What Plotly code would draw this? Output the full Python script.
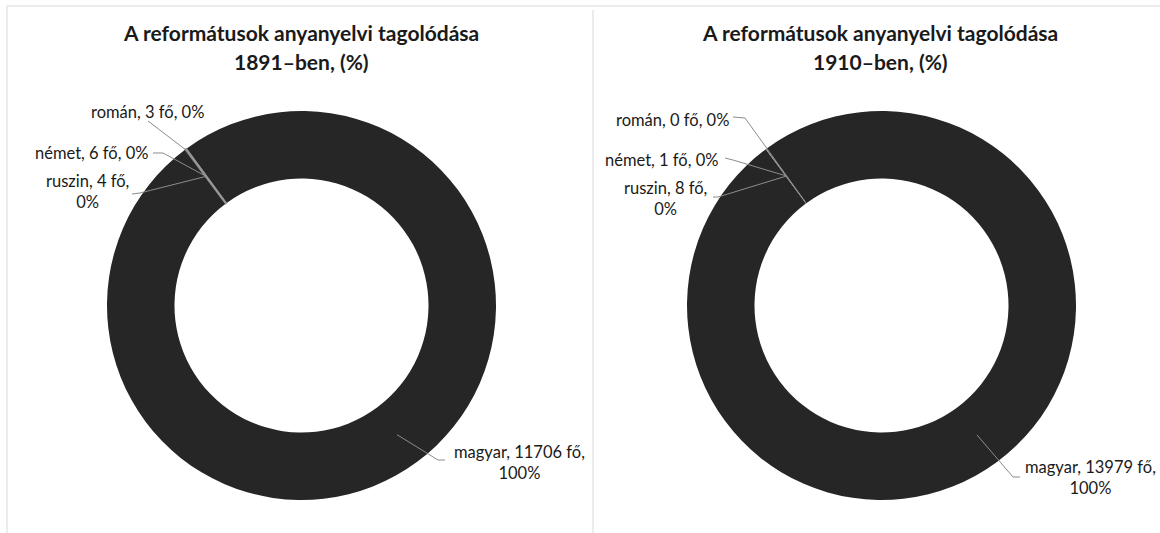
import math

import plotly.graph_objects as go

# ─────────────────────────────────────────────────────────────────────────────
# Data
# ─────────────────────────────────────────────────────────────────────────────

categories = ["magyar", "ruszin", "német", "román"]
values_1891 = [11706, 4, 6, 3]
values_1910 = [13979, 8, 1, 0]
years = ["1891", "1910"]

# ─────────────────────────────────────────────────────────────────────────────
# Style / layout
# ─────────────────────────────────────────────────────────────────────────────

W, H = 1160, 533
FONT = "Lato, 'Open Sans', sans-serif"
TEXT = "#1a1a1a"
LEADER = "#8c8c8c"
BORDER = "#d9d9d9"
COLORS = ["#262626", "#7f7f7f", "#8c8c8c", "#999999"]

ROTATION = -36.3
HOLE = 0.653
MID = (1 + HOLE) / 2

# pie geometry in pixels: centre x, centre y (from top), outer radius
PIES = [
    dict(cx=301.5, cy=305.5, r=194.5, title_x=301, slice_line=1.4),
    dict(cx=881.5, cy=305.5, r=194.5, title_x=880, slice_line=0),
]

# label placement (pixels): text centre, leader stub points, radius fraction
LABELS = [
    {
        "román": dict(pos=(147, 112), stub=[(148, 121)], rf=0.98, wrap=False),
        "német": dict(pos=(91, 153), stub=[(153, 153), (163, 153)], rf=MID, wrap=False),
        "ruszin": dict(pos=(87, 192), stub=[(132, 194), (140, 193)], rf=MID, wrap=True),
        "magyar": dict(pos=(519, 462), stub=[(445, 460), (438, 460)], rf=MID, wrap=True),
    },
    {
        "román": dict(pos=(672, 120), stub=[(733, 117), (745, 118)], rf=HOLE + 0.01, wrap=False),
        "német": dict(pos=(661, 160), stub=[(725, 158), (733, 160)], rf=MID, wrap=False),
        "ruszin": dict(pos=(665, 198), stub=[(713, 197), (718, 197)], rf=MID, wrap=True),
        "magyar": dict(pos=(1090, 477), stub=[(1020, 477), (1013, 477)], rf=MID, wrap=True),
    },
]


def px(x):
    return x / W


def py(y):
    return 1 - y / H


def slice_point(values, i, geo, rf):
    """Pixel position on the ring at the middle angle of slice ``i``."""
    total = sum(values)
    before = sum(values[:i])
    ang = math.radians(ROTATION + 360 * (before + values[i] / 2) / total)
    rad = geo["r"] * rf
    return geo["cx"] + rad * math.sin(ang), geo["cy"] - rad * math.cos(ang)


fig = go.Figure()
shapes = []
annotations = []

for k, (year, values) in enumerate(zip(years, [values_1891, values_1910])):
    geo = PIES[k]
    total = sum(values)
    fig.add_trace(go.Pie(
        labels=categories,
        values=values,
        hole=HOLE,
        sort=False,
        direction="clockwise",
        rotation=ROTATION,
        textinfo="none",
        textposition="none",
        marker=dict(
            colors=COLORS,
            line=dict(color=COLORS, width=[0] + [geo["slice_line"]] * 3),
        ),
        domain=dict(
            x=[px(geo["cx"] - geo["r"]), px(geo["cx"] + geo["r"])],
            y=[py(geo["cy"] + geo["r"]), py(geo["cy"] - geo["r"])],
        ),
        showlegend=False,
        hovertemplate="%{label}: %{value} fő (%{percent})<extra></extra>",
    ))

    # title, two lines
    for line, ty in [("A reformátusok anyanyelvi tagolódása", 33), (f"{year}–ben, (%)", 62)]:
        annotations.append(dict(
            text=f"<b>{line}</b>", x=px(geo["title_x"]), y=py(ty),
            xref="paper", yref="paper", xanchor="center", yanchor="middle",
            showarrow=False, font=dict(size=21, color=TEXT, family=FONT),
        ))

    # data labels with leader lines
    for i, (name, v) in enumerate(zip(categories, values)):
        spec = LABELS[k][name]
        pct = round(100 * v / total)
        sep = "<br>" if spec["wrap"] else " "
        annotations.append(dict(
            text=f"{name}, {v} fő,{sep}{pct}%",
            x=px(spec["pos"][0]), y=py(spec["pos"][1]),
            xref="paper", yref="paper", xanchor="center", yanchor="middle",
            align="center", showarrow=False,
            font=dict(size=16.5, color=TEXT, family=FONT),
        ))
        pts = spec["stub"] + [slice_point(values, i, geo, spec["rf"])]
        path = "M " + " L ".join(f"{px(a):.5f},{py(b):.5f}" for a, b in pts)
        shapes.append(dict(
            type="path", path=path, xref="paper", yref="paper",
            line=dict(color=LEADER, width=1),
        ))

# chart frames
for x0, y0, x1, y1 in [(7, 6, 1160, 6), (7, 6, 7, 533), (593, 10, 593, 533)]:
    shapes.append(dict(
        type="line", x0=px(x0), y0=py(y0), x1=px(x1), y1=py(y1),
        xref="paper", yref="paper", line=dict(color=BORDER, width=1),
    ))

fig.update_layout(
    width=W,
    height=H,
    margin=dict(l=0, r=0, t=0, b=0),
    paper_bgcolor="white",
    plot_bgcolor="white",
    font=dict(family=FONT, color=TEXT),
    shapes=shapes,
    annotations=annotations,
)

# the default page keeps an 8px body margin; drop it so the figure sits at 0,0
fig.write_html(
    "out.html",
    config={"displayModeBar": False},
    post_script="document.body.style.margin = '0';",
)
